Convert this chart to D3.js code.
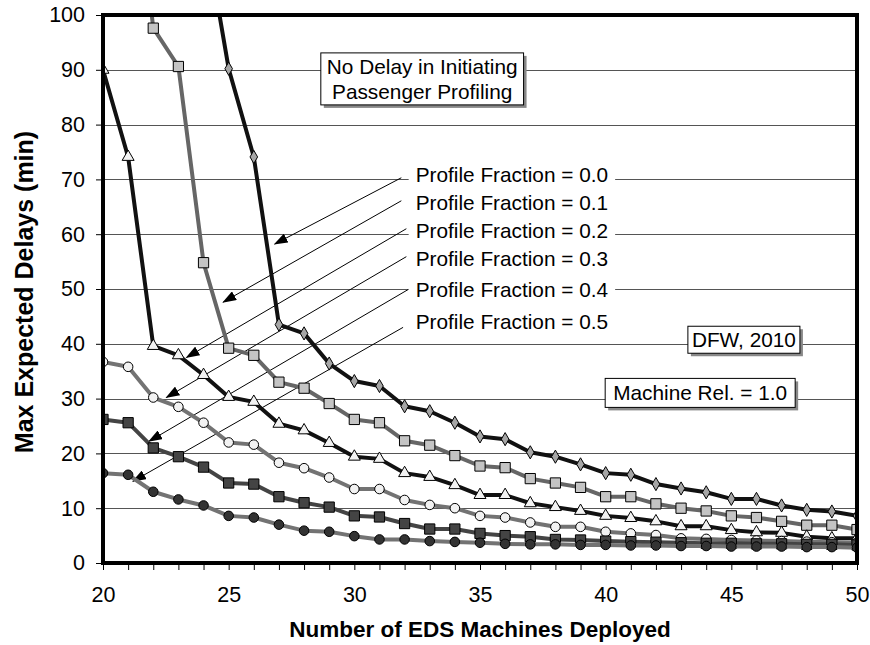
<!DOCTYPE html>
<html>
<head>
<meta charset="utf-8">
<script src="https://cdn.jsdelivr.net/npm/d3@7"></script>
<style>
  body { margin: 0; background: #fff; }
  svg { display: block; font-family: Arial, "Liberation Sans", Helvetica, sans-serif; }
</style>
</head>
<body>
<svg id="chart"></svg>
<script>
// Number of EDS machines deployed (x axis)
const machines = [20,21,22,23,24,25,26,27,28,29,30,31,32,33,34,35,36,37,38,39,40,41,42,43,44,45,46,47,48,49,50];

// Max expected delays (min) per profile fraction, null = not plotted
const pf00 = [null,null,null,null,117,90.2,74.1,43.5,41.9,36.4,33.2,32.3,28.6,27.7,25.6,23.1,22.6,20.2,19.4,18.0,16.4,16.1,14.4,13.6,12.9,11.7,11.7,10.5,9.7,9.4,8.6];
const pf01 = [null,138,97.6,90.6,54.8,39.2,37.9,33.0,31.9,29.1,26.2,25.6,22.3,21.5,19.6,17.7,17.4,15.4,14.6,13.8,12.1,12.1,10.8,10.0,9.5,8.6,8.3,7.6,6.9,6.9,6.1];
const pf02 = [90,74.1,39.6,37.9,34.3,30.3,29.4,25.4,24.2,21.9,19.4,19.0,16.4,15.7,14.2,12.4,12.4,10.9,10.2,9.5,8.6,8.2,7.6,6.7,6.7,6.0,5.6,5.5,4.8,4.5,4.5];
const pf03 = [36.7,35.8,30.2,28.5,25.6,22.0,21.6,18.3,17.3,15.6,13.5,13.5,11.5,10.6,10.0,8.6,8.3,7.4,6.6,6.6,5.7,5.4,5.1,4.5,4.4,4.2,4.1,4.0,3.9,3.8,3.7];
const pf04 = [26.2,25.6,21.0,19.4,17.5,14.6,14.4,12.1,11.0,10.2,8.6,8.4,7.2,6.2,6.2,5.4,5.0,4.8,4.3,4.2,4.0,3.9,3.8,3.7,3.6,3.6,3.5,3.5,3.4,3.4,3.3];
const pf05 = [16.4,16.1,13.0,11.6,10.5,8.6,8.3,7.0,5.9,5.7,4.9,4.3,4.3,4.0,3.85,3.7,3.5,3.4,3.4,3.3,3.3,3.2,3.2,3.1,3.1,3.0,3.0,3.0,2.9,2.9,2.8];

const profileLabels = ["Profile Fraction = 0.0","Profile Fraction = 0.1","Profile Fraction = 0.2",
                       "Profile Fraction = 0.3","Profile Fraction = 0.4","Profile Fraction = 0.5"];

// annotation anchors in data units: label position, arrow start, arrow tip
const labelX = 32.44;
const labelY = [70.8, 65.8, 60.6, 55.6, 49.8, 44.0];
const arrowStart = [[31.87,70.3],[31.87,66.1],[32.07,61.0],[32.07,55.9],[32.14,49.9],[31.94,43.0]];
const arrowTip = [[26.83,58.2],[24.78,47.6],[23.32,37.5],[22.52,30.2],[21.83,22.2],[21.19,14.9]];

const xTicks = [20,25,30,35,40,45,50];
const yTicks = [0,10,20,30,40,50,60,70,80,90,100];

const width = 870, height = 645;
const margin = { top: 15, right: 13, bottom: 82, left: 103 };
const w = width - margin.left - margin.right;
const h = height - margin.top - margin.bottom;

const svg = d3.select('#chart').attr('width', width).attr('height', height);

const x = d3.scaleLinear().domain([20, 50]).range([0, w]);
const y = d3.scaleLinear().domain([0, 100]).range([h, 0]);

const chart = svg.append('g').attr('transform', `translate(${margin.left},${margin.top})`);

svg.append('defs').append('clipPath').attr('id', 'plotclip')
  .append('rect').attr('width', w).attr('height', h);

// gridlines
chart.append('g').selectAll('line')
  .data(yTicks.filter(t => t > 0 && t < 100))
  .join('line')
    .attr('x1', 0).attr('x2', w)
    .attr('y1', d => Math.round(y(d)) + 0.5).attr('y2', d => Math.round(y(d)) + 0.5)
    .attr('stroke', '#555').attr('stroke-width', 1);

// x axis: minor ticks every machine, labels every 5
const xAxisG = chart.append('g').attr('transform', `translate(0,${h})`);
xAxisG.call(d3.axisBottom(x).tickValues(machines).tickSize(7).tickPadding(17)
    .tickFormat(d => xTicks.includes(d) ? d : ''));
xAxisG.select('.domain').remove();
xAxisG.selectAll('.tick line').attr('stroke', '#000').attr('stroke-width', 1);
xAxisG.selectAll('.tick text').attr('font-size', 21.5).attr('fill', '#000')
  .attr('font-family', 'Arial, "Liberation Sans", sans-serif');

const yAxisG = chart.append('g');
yAxisG.call(d3.axisLeft(y).tickValues(yTicks).tickSize(7).tickPadding(11));
yAxisG.select('.domain').remove();
yAxisG.selectAll('.tick line').attr('stroke', '#000').attr('stroke-width', 1);
yAxisG.selectAll('.tick text').attr('font-size', 21.5).attr('fill', '#000')
  .attr('font-family', 'Arial, "Liberation Sans", sans-serif');

// annotation arrows
svg.select('defs').append('marker')
  .attr('id', 'arrow')
  .attr('markerUnits', 'userSpaceOnUse')
  .attr('viewBox', '0 0 14 10')
  .attr('refX', 13).attr('refY', 5)
  .attr('markerWidth', 14).attr('markerHeight', 10)
  .attr('orient', 'auto')
  .append('path').attr('d', 'M0,0 L14,5 L0,10 Z').attr('fill', '#000');

// white label backgrounds + texts
const labelG = chart.append('g');
profileLabels.forEach((txt, i) => {
  const t = labelG.append('text')
    .attr('x', x(labelX)).attr('y', y(labelY[i]))
    .attr('dy', '0.35em')
    .attr('font-size', 20.8)
    .text(txt);
  const bb = t.node().getBBox();
  labelG.insert('rect', 'text')
    .attr('x', bb.x - 7).attr('y', bb.y + 2)
    .attr('width', bb.width + 14).attr('height', bb.height - 4)
    .attr('fill', '#fff');
});

chart.append('g').selectAll('line')
  .data(arrowStart)
  .join('line')
    .attr('x1', d => x(d[0])).attr('y1', d => y(d[1]))
    .attr('x2', (d, i) => x(arrowTip[i][0])).attr('y2', (d, i) => y(arrowTip[i][1]))
    .attr('stroke', '#000').attr('stroke-width', 1)
    .attr('marker-end', 'url(#arrow)');

// series
const series = [
  { name: '0.0', values: pf00, line: '#111', fill: '#a6a6a6', shape: d3.symbolDiamond, size: 50 },
  { name: '0.1', values: pf01, line: '#666', fill: '#c4c4c4', shape: d3.symbolSquare, size: 105 },
  { name: '0.2', values: pf02, line: '#111', fill: '#f2f2f2', shape: d3.symbolTriangle, size: 62 },
  { name: '0.3', values: pf03, line: '#737373', fill: '#f2f2f2', shape: d3.symbolCircle, size: 72 },
  { name: '0.4', values: pf04, line: '#444', fill: '#444', shape: d3.symbolSquare, size: 105 },
  { name: '0.5', values: pf05, line: '#737373', fill: '#333', shape: d3.symbolCircle, size: 72 }
];

const line = d3.line()
  .defined(d => d.v != null)
  .x(d => x(d.m))
  .y(d => y(d.v));

const plot = chart.append('g').attr('clip-path', 'url(#plotclip)');

series.forEach(s => {
  const pts = machines.map((m, i) => ({ m: m, v: s.values[i] }));
  plot.append('path')
    .datum(pts)
    .attr('d', line)
    .attr('fill', 'none')
    .attr('stroke', s.line)
    .attr('stroke-width', 4)
    .attr('stroke-linejoin', 'round');
  plot.append('g').selectAll('path')
    .data(pts.filter(d => d.v != null && d.v <= 100))
    .join('path')
      .attr('transform', d => `translate(${x(d.m)},${y(d.v)})`)
      .attr('d', d3.symbol().type(s.shape).size(s.size))
      .attr('fill', s.fill)
      .attr('stroke', '#000')
      .attr('stroke-width', 1);
});

// text boxes with drop shadow
function noteBox(lines, cx, cy, padX, padY) {
  const g = chart.append('g');
  const lh = 25;
  const t = g.append('text')
    .attr('text-anchor', 'middle')
    .attr('font-size', 20.8);
  lines.forEach((l, i) => {
    t.append('tspan')
      .attr('x', x(cx))
      .attr('y', y(cy) + (i - (lines.length - 1) / 2) * lh)
      .attr('dy', '0.35em')
      .text(l);
  });
  const bb = t.node().getBBox();
  const bx = bb.x - padX, by = bb.y - padY, bw = bb.width + 2 * padX, bh = bb.height + 2 * padY;
  g.insert('rect', 'text').attr('x', bx + 3).attr('y', by + 3).attr('width', bw).attr('height', bh)
    .attr('fill', '#888');
  g.insert('rect', 'text').attr('x', bx).attr('y', by).attr('width', bw).attr('height', bh)
    .attr('fill', '#fff').attr('stroke', '#000').attr('stroke-width', 1);
}
noteBox(['No Delay in Initiating', 'Passenger Profiling'], 32.70, 88.3, 6, 2);
noteBox(['DFW, 2010'], 45.5, 40.7, 4, 2);
noteBox(['Machine Rel. = 1.0'], 43.76, 31.0, 8, 3);

// thick plot frame
chart.append('rect')
  .attr('width', w).attr('height', h)
  .attr('fill', 'none').attr('stroke', '#000').attr('stroke-width', 4);

// axis titles
svg.append('text')
  .attr('x', margin.left + w / 2).attr('y', 637)
  .attr('text-anchor', 'middle')
  .attr('font-size', 22.5).attr('font-weight', 'bold')
  .text('Number of EDS Machines Deployed');

svg.append('text')
  .attr('transform', `translate(33,${margin.top + h / 2 + 3}) rotate(-90)`)
  .attr('text-anchor', 'middle')
  .attr('font-size', 25).attr('font-weight', 'bold')
  .text('Max Expected Delays (min)');
</script>
</body>
</html>
